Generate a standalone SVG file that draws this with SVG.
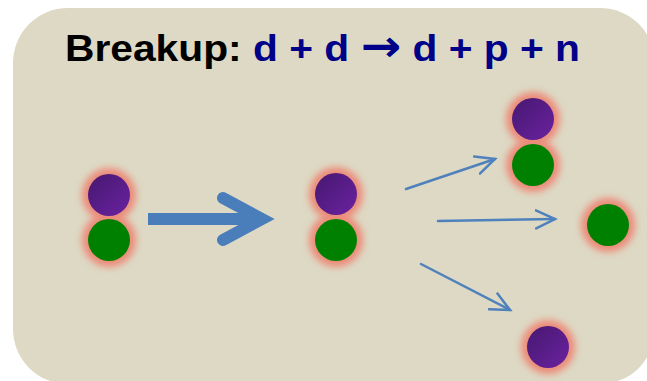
<svg xmlns="http://www.w3.org/2000/svg" width="647" height="381" viewBox="0 0 647 381">
<defs>
<style>
.title{font-family:"Liberation Sans",Arial,sans-serif;font-weight:bold;font-size:37px}
.arr{font-family:"DejaVu Sans",sans-serif;font-weight:bold;font-size:44px}
.glow{fill:#EC8A78;filter:url(#blur)}
.p{fill:url(#pg)}
.n{fill:#008000}
.thin{fill:none;stroke:#4F81BD;stroke-width:2.5;stroke-linecap:round}
</style>
<linearGradient id="pg" x1="0" y1="0" x2="1" y2="1">
<stop offset="0" stop-color="#461870"/>
<stop offset="1" stop-color="#6A22A0"/>
</linearGradient>
<filter id="blur" x="-50%" y="-50%" width="200%" height="200%">
<feGaussianBlur stdDeviation="3.6"/>
</filter>
<marker id="ah" markerUnits="userSpaceOnUse" viewBox="-20 -12 24 24" refX="0" refY="0" markerWidth="24" markerHeight="24" orient="auto">
<polyline points="-19,-9 0,0 -19,9" fill="none" stroke="#4F81BD" stroke-width="2.5" stroke-linecap="round" stroke-linejoin="miter"/>
</marker>
</defs>
<rect x="13" y="8" width="642" height="376" rx="55" ry="55" fill="#DDD9C4"/>
<text class="title" x="65" y="61" textLength="515" lengthAdjust="spacingAndGlyphs"><tspan fill="#000000">Breakup: </tspan><tspan fill="#000088">d + d <tspan class="arr">→</tspan> d + p + n</tspan></text>

<g id="deuteron-left">
<circle class="glow" cx="109" cy="195" r="27"/>
<circle class="glow" cx="109" cy="240" r="27"/>
<circle class="p" cx="109" cy="195" r="21"/>
<circle class="n" cx="109" cy="240" r="21"/>
</g>
<g id="deuteron-mid">
<circle class="glow" cx="336" cy="194" r="27"/>
<circle class="glow" cx="336" cy="240" r="27"/>
<circle class="p" cx="336" cy="194" r="21"/>
<circle class="n" cx="336" cy="240" r="21"/>
</g>
<g id="deuteron-out">
<circle class="glow" cx="533" cy="119" r="27"/>
<circle class="glow" cx="533" cy="165" r="27"/>
<circle class="p" cx="533" cy="119" r="21"/>
<circle class="n" cx="533" cy="165" r="21"/>
</g>
<g id="neutron-out">
<circle class="glow" cx="608" cy="225" r="27"/>
<circle class="n" cx="608" cy="225" r="21"/>
</g>
<g id="proton-out">
<circle class="glow" cx="548" cy="347" r="27"/>
<circle class="p" cx="548" cy="347" r="21"/>
</g>

<g id="connectors">
<line x1="148" y1="219" x2="255" y2="219" stroke="#4A7EBB" stroke-width="12"/>
<polyline points="223,198 262,219 223,240" fill="none" stroke="#4A7EBB" stroke-width="12" stroke-linecap="round" stroke-linejoin="miter"/>
<line class="thin" x1="406" y1="189" x2="495" y2="159" marker-end="url(#ah)"/>
<line class="thin" x1="438" y1="221" x2="555" y2="219" marker-end="url(#ah)"/>
<line class="thin" x1="421" y1="264" x2="510" y2="310" marker-end="url(#ah)"/>
</g>
</svg>
